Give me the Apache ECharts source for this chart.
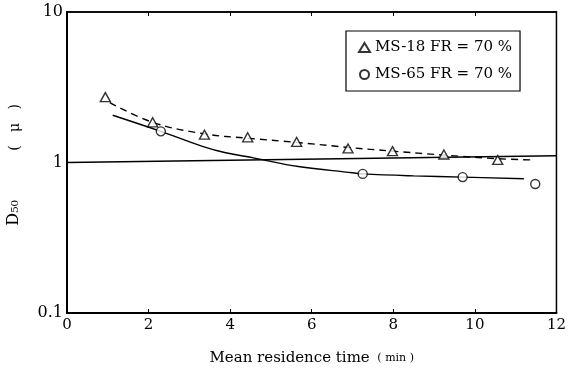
<!DOCTYPE html>
<html>
<head>
<meta charset="utf-8">
<script src="https://cdn.jsdelivr.net/npm/echarts@6/dist/echarts.min.js"></script>
<style>
  html, body {margin: 0; padding: 0; background: #fff;}
  #chart {width: 569px; height: 371px;}
</style>
</head>
<body>
<div id="chart"></div>
<script>
// measured points
const ms18X = [0.94, 2.10, 3.37, 4.43, 5.63, 6.89, 7.98, 9.24, 10.56];
const ms18Y = [2.72, 1.85, 1.53, 1.47, 1.37, 1.24, 1.19, 1.13, 1.04];
const ms65X = [2.30, 7.25, 9.70, 11.48];
const ms65Y = [1.61, 0.84, 0.80, 0.72];
// hand drawn fit curves
const dashFitX = [1.05, 2.1, 3.37, 4.43, 5.63, 6.89, 7.98, 9.24, 10.56, 11.4];
const dashFitY = [2.50, 1.85, 1.55, 1.45, 1.36, 1.26, 1.19, 1.12, 1.06, 1.04];
const solidFitX = [1.12, 2.3, 3.32, 3.89, 4.6, 5.67, 7.0, 7.25, 8.5, 9.7, 11.2];
const solidFitY = [2.06, 1.61, 1.28, 1.16, 1.07, 0.94, 0.855, 0.84, 0.815, 0.80, 0.78];
// the line through 1 (slightly tilted in the scan)
const refLineX = [0, 12];
const refLineY = [1, 1.11];
const xTicks = [0, 2, 4, 6, 8, 10, 12];

const font = 'DejaVu Serif';
const zip = (a, b) => a.map((v, i) => [v, b[i]]);

const chart = echarts.init(document.getElementById('chart'));
chart.setOption({
    animation: false,
    textStyle: {fontFamily: font, color: '#000'},
    grid: {left: 67, right: 9, top: 12, bottom: 58, show: true, borderColor: '#000', borderWidth: 1.5},
    legend: {
        left: 346,
        top: 31,
        orient: 'vertical',
        padding: [9, 8, 9, 12],
        itemGap: 12,
        itemWidth: 11,
        itemHeight: 9,
        borderColor: '#000',
        borderWidth: 1.2,
        textStyle: {fontFamily: font, fontSize: 15, color: '#000'},
        data: ['MS-18 FR = 70 %', 'MS-65 FR = 70 %']
    },
    xAxis: [{
        type: 'value',
        min: xTicks[0],
        max: xTicks[xTicks.length - 1],
        interval: 2,
        splitLine: {show: false},
        axisLine: {lineStyle: {color: '#000', width: 2}},
        axisTick: {inside: true, length: 4, lineStyle: {color: '#000'}},
        axisLabel: {fontFamily: font, fontSize: 15, color: '#000', margin: 5},
        name: '{a|Mean residence time}  {b|( min )}',
        nameLocation: 'middle',
        nameGap: 38,
        nameTextStyle: {
            rich: {
                a: {fontFamily: font, fontSize: 15, color: '#000'},
                b: {fontFamily: font, fontSize: 11, color: '#000'}
            }
        }
    }, {
        type: 'value',
        position: 'top',
        min: 0,
        max: 12,
        interval: 2,
        splitLine: {show: false},
        axisLine: {lineStyle: {color: '#000', width: 1.5}},
        axisTick: {inside: true, length: 4, lineStyle: {color: '#000'}},
        axisLabel: {show: false}
    }],
    yAxis: {
        type: 'log',
        logBase: 10,
        min: 0.1,
        max: 10,
        splitLine: {show: false},
        axisLine: {lineStyle: {color: '#000', width: 2}},
        axisTick: {show: false},
        axisLabel: {fontFamily: font, fontSize: 16, color: '#000', margin: 4}
    },
    graphic: [
        {type: 'text', left: 6, top: 200, rotation: Math.PI / 2,
         style: {text: 'D₅₀', font: '16px "DejaVu Serif"', fill: '#000'}},
        {type: 'text', left: 8, top: 104, rotation: Math.PI / 2,
         style: {text: '(   μ   )', font: '14px "DejaVu Serif"', fill: '#000'}}
    ],
    series: [
        {
            type: 'line',
            data: zip(refLineX, refLineY),
            symbol: 'none',
            lineStyle: {color: '#000', width: 1.4},
            silent: true
        },
        {
            type: 'line',
            data: zip(dashFitX, dashFitY),
            smooth: 0.4,
            symbol: 'none',
            lineStyle: {color: '#000', width: 1.4, type: [7, 5]},
            silent: true
        },
        {
            type: 'line',
            data: zip(solidFitX, solidFitY),
            smooth: 0.4,
            symbol: 'none',
            lineStyle: {color: '#000', width: 1.4},
            silent: true
        },
        {
            name: 'MS-18 FR = 70 %',
            type: 'scatter',
            data: zip(ms18X, ms18Y),
            symbol: 'triangle',
            symbolSize: [10, 9],
            itemStyle: {color: '#fff', borderColor: '#000', borderWidth: 1.4},
            z: 5
        },
        {
            name: 'MS-65 FR = 70 %',
            type: 'scatter',
            data: zip(ms65X, ms65Y),
            symbol: 'circle',
            symbolSize: 9,
            itemStyle: {color: '#fff', borderColor: '#000', borderWidth: 1.4},
            z: 5
        }
    ]
});
</script>
</body>
</html>
